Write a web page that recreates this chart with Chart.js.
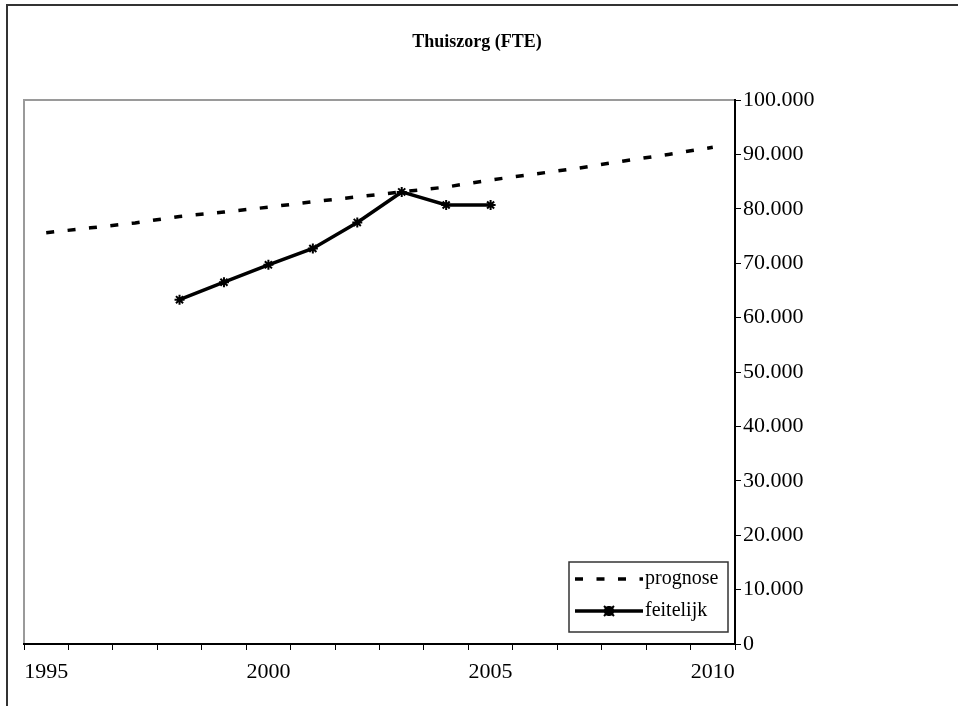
<!DOCTYPE html>
<html>
<head>
<meta charset="utf-8">
<title>Thuiszorg (FTE)</title>
<script src="https://cdn.jsdelivr.net/npm/chart.js@4"></script>
<style>
  html, body { margin: 0; padding: 0; background: #ffffff; }
  canvas { display: block; }
</style>
</head>
<body>
<canvas id="chart" width="958" height="706"></canvas>
<script>
// Years on the category axis
const years = ['1995','1996','1997','1998','1999','2000','2001','2002','2003','2004','2005','2006','2007','2008','2009','2010'];
// Forecast of home-care staff (FTE)
const prognose = [75600, 76500, 77400, 78600, 79400, 80300, 81300, 82200, 83100, 84000, 85300, 86400, 87500, 88800, 90000, 91300];
// Actual staffing (FTE)
const feitelijk = [null, null, null, 63300, 66500, 69700, 72700, 77500, 83100, 80700, 80700, null, null, null, null, null];
// Value axis ticks
const yMin = 0, yMax = 100000, yStep = 10000;
// Years that carry a label on the horizontal axis
const labelledYears = ['1995', '2000', '2005', '2010'];

const SERIF = '"Liberation Serif", "Times New Roman", serif';

function dutchThousands(v) {
  return String(Math.round(v)).replace(/\B(?=(\d{3})+(?!\d))/g, '.');
}

// Outer frame, plot-area border and title
const framePlugin = {
  id: 'frame',
  beforeDraw(chart) {
    const { ctx, chartArea: a } = chart;
    ctx.save();
    ctx.fillStyle = '#ffffff';
    ctx.fillRect(0, 0, chart.width, chart.height);
    ctx.strokeStyle = '#333333';
    ctx.lineWidth = 2;
    ctx.strokeRect(7, 5, chart.width + 20, chart.height + 20);
    // light grey left and top edges of the plot area
    ctx.strokeStyle = '#9a9a9a';
    ctx.lineWidth = 2;
    ctx.beginPath();
    ctx.moveTo(a.left, a.bottom);
    ctx.lineTo(a.left, a.top);
    ctx.lineTo(a.right, a.top);
    ctx.stroke();
    // title
    ctx.fillStyle = '#000000';
    ctx.font = 'bold 18px ' + SERIF;
    ctx.textAlign = 'center';
    ctx.textBaseline = 'middle';
    ctx.fillText('Thuiszorg (FTE)', 477, 42);
    ctx.restore();
  }
};

// Boxed legend inside the plot area, lower right
const legendBoxPlugin = {
  id: 'legendBox',
  afterDraw(chart) {
    const { ctx } = chart;
    const x0 = 569, y0 = 562, w = 159, h = 70;
    ctx.save();
    ctx.fillStyle = '#ffffff';
    ctx.fillRect(x0, y0, w, h);
    ctx.strokeStyle = '#333333';
    ctx.lineWidth = 1.5;
    ctx.strokeRect(x0, y0, w, h);
    const rows = [y0 + 17, y0 + 49];
    chart.data.datasets.forEach((ds, i) => {
      const y = rows[i];
      ctx.strokeStyle = ds.borderColor;
      ctx.lineWidth = ds.borderWidth;
      ctx.setLineDash(ds.borderDash || []);
      ctx.beginPath();
      ctx.moveTo(575, y);
      ctx.lineTo(643, y);
      ctx.stroke();
      ctx.setLineDash([]);
      if (ds.pointStyle && ds.pointRadius) {
        Chart.helpers.drawPoint(ctx, {
          pointStyle: ds.pointStyle,
          radius: ds.pointRadius,
          borderWidth: ds.pointBorderWidth,
          rotation: 0
        }, 609, y);
        ctx.strokeStyle = ds.borderColor;
        ctx.lineWidth = ds.pointBorderWidth;
        ctx.beginPath();
        const r = ds.pointRadius;
        ctx.moveTo(609 - r, y - r); ctx.lineTo(609 + r, y + r);
        ctx.moveTo(609 + r, y - r); ctx.lineTo(609 - r, y + r);
        ctx.moveTo(609, y - r); ctx.lineTo(609, y + r);
        ctx.stroke();
      }
      ctx.fillStyle = '#000000';
      ctx.font = '20px ' + SERIF;
      ctx.textAlign = 'left';
      ctx.textBaseline = 'middle';
      ctx.fillText(ds.label, 645, y);
    });
    ctx.restore();
  }
};

new Chart(document.getElementById('chart'), {
  type: 'line',
  data: {
    labels: years,
    datasets: [
      {
        label: 'prognose',
        data: prognose,
        borderColor: '#000000',
        borderWidth: 3.5,
        borderDash: [8, 13.5],
        pointRadius: 0,
        tension: 0,
        spanGaps: false
      },
      {
        label: 'feitelijk',
        data: feitelijk,
        borderColor: '#000000',
        borderWidth: 3.5,
        pointStyle: 'star',
        pointRadius: 5,
        pointBorderColor: '#000000',
        pointBackgroundColor: '#000000',
        pointBorderWidth: 2,
        tension: 0,
        spanGaps: false
      }
    ]
  },
  options: {
    responsive: false,
    animation: false,
    devicePixelRatio: 1,
    layout: { padding: { left: 24, top: 100, right: 0, bottom: 0 } },
    plugins: {
      legend: { display: false },
      title: { display: false },
      tooltip: { enabled: false }
    },
    scales: {
      x: {
        type: 'category',
        offset: true,
        grid: {
          offset: true,
          drawOnChartArea: false,
          drawTicks: true,
          tickLength: 6,
          color: '#000000',
          lineWidth: 1
        },
        border: { display: true, color: '#000000', width: 2 },
        ticks: {
          autoSkip: false,
          maxRotation: 0,
          padding: 9,
          color: '#000000',
          font: { family: SERIF, size: 22 },
          callback(value) {
            const lbl = this.getLabelForValue(value);
            return labelledYears.includes(lbl) ? lbl : '';
          }
        },
        afterFit(scale) { scale.height = 62; }
      },
      y: {
        position: 'right',
        min: yMin,
        max: yMax,
        grid: {
          drawOnChartArea: false,
          drawTicks: true,
          tickLength: 6,
          color: '#000000',
          lineWidth: 1
        },
        border: { display: true, color: '#000000', width: 2 },
        ticks: {
          stepSize: yStep,
          padding: 2,
          color: '#000000',
          font: { family: SERIF, size: 22 },
          callback(value) { return dutchThousands(value); }
        },
        afterFit(scale) { scale.width = 223; }
      }
    }
  },
  plugins: [framePlugin, legendBoxPlugin]
});
</script>
</body>
</html>
